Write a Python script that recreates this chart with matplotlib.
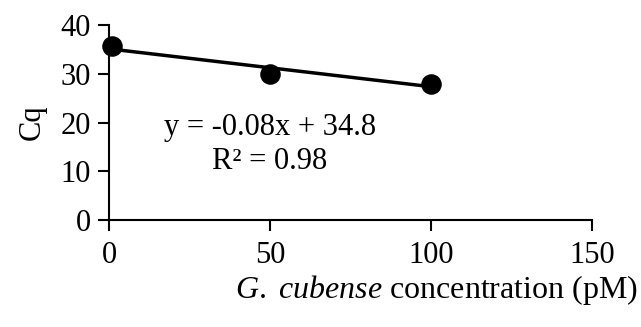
import matplotlib
matplotlib.use('Agg')
import matplotlib.pyplot as plt
import numpy as np

# G. cubense concentration (pM) vs Cq
conc = np.array([1, 50, 100])
cq = np.array([35.7, 29.9, 28.0])
x_ticks = [0, 50, 100, 150]
y_ticks = [0, 10, 20, 30, 40]
eq_label = 'y = -0.08x + 34.8'
r2_label = 'R\u00b2 = 0.98'

plt.rcParams['font.family'] = ['Liberation Serif', 'DejaVu Serif']
plt.rcParams['font.size'] = 22
plt.rcParams['mathtext.fontset'] = 'custom'
plt.rcParams['mathtext.rm'] = 'Liberation Serif'
plt.rcParams['mathtext.it'] = 'Liberation Serif:italic'

fig = plt.figure(figsize=(6.41, 3.27), dpi=100)
ax = fig.add_axes([109/641, 1 - 220/327, (592 - 109)/641, (220 - 25)/327])

# linear trendline over the data range
slope, icpt = np.polyfit(conc, cq, 1)
xs = np.array([conc.min(), conc.max()])
ax.plot(xs, slope*xs + icpt, color='black', lw=2.5, zorder=2)
ax.scatter(conc, cq, s=190, color='black', zorder=3, clip_on=False)

ax.text(50, 19, eq_label, ha='center', va='center')
ax.text(50, 12, r2_label, ha='center', va='center')

ax.set_xlim(0, 150)
ax.set_ylim(0, 40)
ax.set_xticks(x_ticks)
ax.set_yticks(y_ticks)
for s in ['top', 'right']:
    ax.spines[s].set_visible(False)
for s in ['left', 'bottom']:
    ax.spines[s].set_linewidth(1.5)
ax.tick_params(width=1.5, length=8)
ax.tick_params(axis='y', pad=5)
ax.tick_params(axis='x', pad=7)

ax.set_ylabel('Cq', labelpad=10)
fig.text(638/641, 1 - 290/327, r'$\it{G.\ cubense}$ concentration (pM)',
         ha='right', va='center', fontsize=23)

fig.savefig('out.png', dpi=100)
